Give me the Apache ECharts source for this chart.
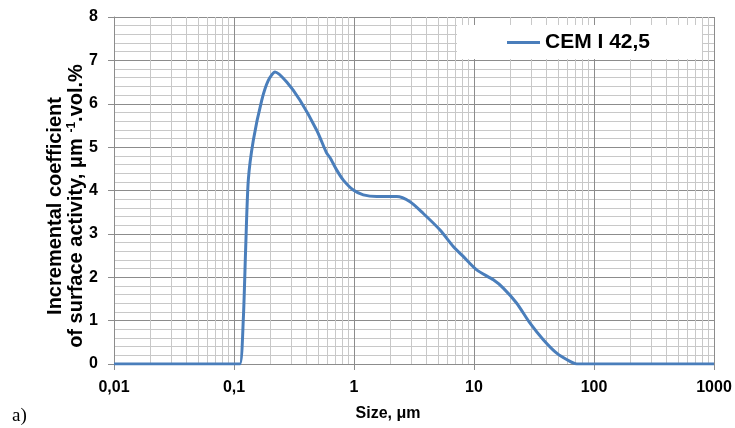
<!DOCTYPE html>
<html>
<head>
<meta charset="utf-8">
<script src="https://cdn.jsdelivr.net/npm/echarts@6/dist/echarts.min.js"></script>
<style>
  html, body { margin: 0; padding: 0; background: #fff; }
  #chart { width: 735px; height: 428px; }
</style>
</head>
<body>
<div id="chart"></div>
<script>
// particle size, um
var sizes = [0.01, 0.05, 0.1, 0.112, 0.1195, 0.1252, 0.1316, 0.1449, 0.1702, 0.1932, 0.2197,
  0.275, 0.3548, 0.4889, 0.592, 0.63, 0.718, 0.815, 0.987, 1.195, 1.546, 2.27, 2.93, 3.78,
  5.21, 6.72, 8.13, 10.53, 14.49, 17.54, 22.7, 29.3, 37.8, 48.9, 63.1, 71.8, 100, 1000]
// incremental coefficient of surface activity
var cem = [0, 0, 0, 0, 1.02, 2.7, 4.24, 5.16, 6.08, 6.54, 6.73,
  6.5, 6.08, 5.39, 4.86, 4.76, 4.47, 4.24, 4.01, 3.9, 3.86, 3.86, 3.74, 3.47,
  3.09, 2.71, 2.48, 2.17, 1.94, 1.75, 1.4, 0.94, 0.56, 0.25, 0.06, 0, 0, 0]
var seriesName = 'CEM I 42,5'
var xLabels = { 0.01: '0,01', 0.1: '0,1', 1: '1', 10: '10', 100: '100', 1000: '1000' }

// minor vertical grid lines 2..9 in every decade
var decades = [0.01, 0.1, 1, 10, 100]
var minorX = []
decades.forEach(function (d) {
  for (var k = 2; k <= 9; k++) minorX.push(+(k * d).toPrecision(3))
})

var chart = echarts.init(document.getElementById('chart'))

var option = {
  backgroundColor: '#fff',
  animation: false,
  grid: { left: 114, right: 21, top: 17, bottom: 64 },
  legend: {
    left: 457,
    top: 25,
    z: 10,
    padding: [7, 52, 6, 50],
    backgroundColor: '#fff',
    itemWidth: 33,
    itemHeight: 3,
    itemGap: 5,
    data: [{ name: seriesName, icon: 'rect' }],
    textStyle: { fontFamily: 'Liberation Sans', fontWeight: 'bold', fontSize: 21, color: '#000' }
  },
  xAxis: {
    type: 'log',
    logBase: 10,
    min: 0.01,
    max: 1000,
    axisLine: { show: true, lineStyle: { color: '#8c8c8c', width: 1 } },
    axisTick: { show: true, length: 6, lineStyle: { color: '#8c8c8c' } },
    axisLabel: {
      margin: 16,
      fontFamily: 'Liberation Sans',
      fontWeight: 'bold',
      fontSize: 16,
      color: '#000',
      formatter: function (v) { return xLabels[v] || xLabels[+v.toPrecision(3)] || '' }
    },
    splitLine: { show: true, lineStyle: { color: '#8c8c8c', width: 1 } }
  },
  yAxis: {
    type: 'value',
    min: 0,
    max: 8,
    interval: 1,
    axisLine: { show: true, lineStyle: { color: '#8c8c8c', width: 1 } },
    axisTick: { show: true, length: 6, lineStyle: { color: '#8c8c8c' } },
    axisLabel: {
      margin: 16,
      fontFamily: 'Liberation Sans',
      fontWeight: 'bold',
      fontSize: 16,
      color: '#000'
    },
    splitLine: { show: true, lineStyle: { color: '#8c8c8c', width: 1 } },
    minorTick: { show: false, splitNumber: 5 },
    minorSplitLine: { show: true, lineStyle: { color: '#c8c8c8', width: 1 } }
  },
  graphic: [
    {
      type: 'text',
      x: 66,
      y: 206,
      rotation: Math.PI / 2,
      style: {
        x: 0,
        y: 0,
        text: 'Incremental coefficient\nof surface activity, μm {sup|-1}.vol.%',
        align: 'center',
        verticalAlign: 'middle',
        fontFamily: 'Liberation Sans',
        fontWeight: 'bold',
        fontSize: 20,
        lineHeight: 21,
        fill: '#000',
        rich: {
          sup: { fontFamily: 'Liberation Sans', fontWeight: 'bold', fontSize: 12, verticalAlign: 'top', lineHeight: 21, fill: '#000' }
        }
      }
    },
    {
      type: 'text',
      x: 388,
      y: 414,
      style: {
        text: 'Size, μm',
        align: 'center',
        verticalAlign: 'middle',
        fontFamily: 'Liberation Sans',
        fontWeight: 'bold',
        fontSize: 16,
        fill: '#000'
      }
    },
    {
      type: 'text',
      x: 12,
      y: 416,
      style: {
        text: 'a)',
        align: 'left',
        verticalAlign: 'middle',
        fontFamily: 'Liberation Serif',
        fontSize: 19,
        fill: '#000'
      }
    }
  ],
  series: [
    {
      name: 'minor-grid',
      type: 'line',
      data: [],
      z: 1,
      silent: true,
      markLine: {
        silent: true,
        z: 1,
        symbol: ['none', 'none'],
        label: { show: false },
        lineStyle: { color: '#c8c8c8', type: 'solid', width: 1 },
        emphasis: { disabled: true },
        data: minorX.map(function (v) { return { xAxis: v } })
      }
    },
    {
      name: seriesName,
      type: 'line',
      z: 3,
      symbol: 'none',
      smooth: 0.25,
      lineStyle: { color: '#4a7ebb', width: 3 },
      itemStyle: { color: '#4a7ebb' },
      data: sizes.map(function (s, i) { return [s, cem[i]] })
    }
  ]
}

chart.setOption(option)
</script>
</body>
</html>
